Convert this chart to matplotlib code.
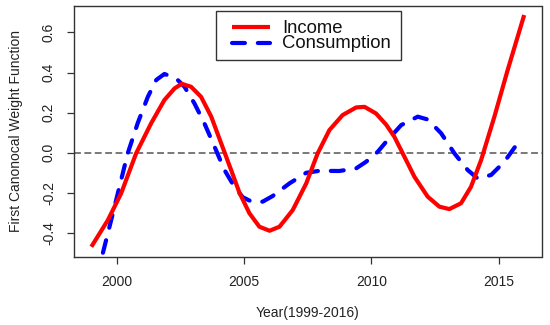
import matplotlib
matplotlib.use("Agg")
import matplotlib.pyplot as plt
from matplotlib.patches import Rectangle

plt.rcParams['font.family'] = ['Liberation Sans', 'DejaVu Sans']

# Data
income_years = [1999.0, 1999.65, 2000.17, 2000.76, 2001.35, 2001.87, 2002.27, 2002.55, 2002.92,
                2003.31, 2003.71, 2004.1, 2004.49, 2004.82, 2005.21, 2005.6, 2006.0, 2006.39,
                2006.91, 2007.44, 2007.89, 2008.35, 2008.87, 2009.4, 2009.73, 2010.18, 2010.58,
                2010.9, 2011.23, 2011.69, 2012.21, 2012.67, 2013.06, 2013.52, 2013.91, 2014.31,
                2014.83, 2015.35, 2016.0]
income_vals = [-0.469, -0.336, -0.203, -0.003, 0.147, 0.263, 0.321, 0.344, 0.329,
               0.279, 0.18, 0.047, -0.086, -0.2, -0.302, -0.369, -0.389, -0.369,
               -0.286, -0.153, -0.003, 0.113, 0.188, 0.226, 0.229, 0.196, 0.14,
               0.08, -0.003, -0.12, -0.219, -0.269, -0.281, -0.252, -0.17, -0.036,
               0.18, 0.412, 0.687]

cons_years = [1999.0, 1999.25, 1999.45, 1999.78, 2000.04, 2000.43, 2000.82, 2001.22, 2001.55,
              2001.87, 2002.33, 2002.66, 2003.05, 2003.44, 2003.84, 2004.23, 2004.62, 2004.95,
              2005.3, 2005.73, 2006.12, 2006.78, 2007.44, 2007.96, 2008.74, 2009.4, 2009.79,
              2010.25, 2010.6, 2011.17, 2011.82, 2012.21, 2012.74, 2013.26, 2013.78, 2014.17,
              2014.7, 2015.22, 2015.74]
cons_vals = [-0.75, -0.61, -0.502, -0.336, -0.203, -0.003, 0.147, 0.279, 0.363,
             0.393, 0.371, 0.329, 0.246, 0.147, 0.03, -0.086, -0.17, -0.222,
             -0.244, -0.244, -0.216, -0.153, -0.1, -0.09, -0.091, -0.078, -0.045,
             0.005, 0.058, 0.138, 0.18, 0.166, 0.097, -0.003, -0.086, -0.128,
             -0.111, -0.045, 0.047]

x_ticks = [2000, 2005, 2010, 2015]
y_ticks = [-0.4, -0.2, 0.0, 0.2, 0.4, 0.6]
y_tick_labels = ["-0.4", "-0.2", "0.0", "0.2", "0.4", "0.6"]
legend_labels = ["Income", "Consumption"]

W, H = 550, 325
fig = plt.figure(figsize=(W / 100, H / 100), dpi=100)
L, R, T, B = 74, 541.5, 6, 257
ax = fig.add_axes([L / W, 1 - B / H, (R - L) / W, (B - T) / H])

ax.axhline(0, color='#555555', lw=1.1, linestyle=(0, (4.5, 2.3)), zorder=1)
ax.plot(income_years, income_vals, color='#ff0000', lw=3.0, solid_capstyle='butt',
        solid_joinstyle='round', zorder=3)
ax.plot(cons_years, cons_vals, color='#0000ff', lw=3.0, linestyle=(0, (3.1, 3.1)),
        dash_capstyle='round', dash_joinstyle='round', zorder=2)

ax.set_xlim(1998.32, 2016.68)
ax.set_ylim(-0.52, 0.732)
ax.set_xticks(x_ticks)
ax.set_xticklabels([str(v) for v in x_ticks])
ax.set_yticks(y_ticks)
ax.set_yticklabels(y_tick_labels)

for s in ax.spines.values():
    s.set_color('#333333')
    s.set_linewidth(1.0)
ax.tick_params(axis='both', length=5, width=0.9, color='#333333', labelsize=10,
               labelcolor='#222222')
ax.tick_params(axis='x', pad=8)
ax.tick_params(axis='y', pad=8, labelrotation=90)
for lab in ax.get_yticklabels():
    lab.set_va('center')

ax.set_xlabel("Year(1999-2016)", fontsize=10, color='#222222', va='center')
ax.xaxis.set_label_coords(0.5, (B - 313) / (B - T))
ax.set_ylabel("First Canonocal Weight Function", fontsize=10, color='#222222', va='center')
ax.yaxis.set_label_coords((16 - L) / (R - L), 0.5)

# legend drawn in axes coordinates
def ax_x(px):
    return (px - L) / (R - L)

def ax_y(py):
    return (B - py) / (B - T)

ax.add_patch(Rectangle((ax_x(216), ax_y(60)), ax_x(400.7) - ax_x(216), ax_y(10.7) - ax_y(60),
                       transform=ax.transAxes, facecolor='white', edgecolor='#333333',
                       lw=1.0, zorder=5))
ax.plot([ax_x(232), ax_x(270)], [ax_y(26.7), ax_y(26.7)], transform=ax.transAxes,
        color='#ff0000', lw=3.0, solid_capstyle='butt', zorder=6)
ax.plot([ax_x(232), ax_x(270)], [ax_y(42.7), ax_y(42.7)], transform=ax.transAxes,
        color='#0000ff', lw=3.0, linestyle=(0, (3.1, 3.1)), dash_capstyle='round', zorder=6)
ax.text(ax_x(282), ax_y(28.3), legend_labels[0], transform=ax.transAxes, fontsize=13.3,
        va='center', ha='left', color='#111111', zorder=7)
ax.text(ax_x(282), ax_y(44.0), legend_labels[1], transform=ax.transAxes, fontsize=13.3,
        va='center', ha='left', color='#111111', zorder=7)

fig.savefig("out.png", dpi=100)
